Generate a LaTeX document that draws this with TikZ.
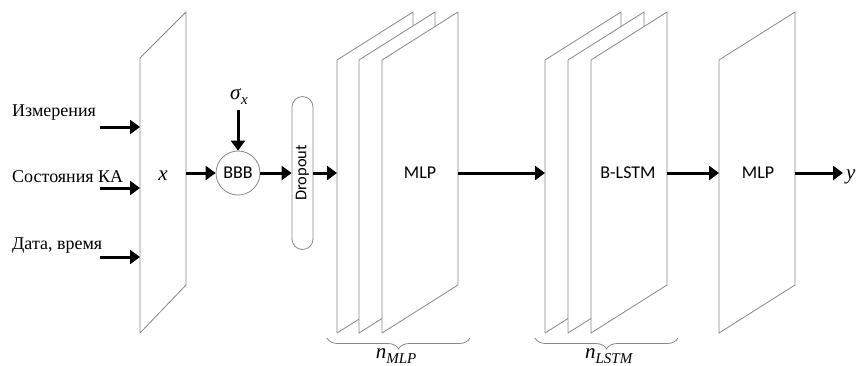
\documentclass[tikz,border=0pt]{standalone}
\usepackage{fontspec}
\setmainfont{Liberation Serif}
\newfontfamily\calibfont{Carlito}
\usetikzlibrary{arrows.meta,decorations.pathreplacing}

\definecolor{edgegray}{RGB}{135,135,135}

% one slanted layer plane, left edge at x = #1
\newcommand\drawplane[1]{%
  \draw[plane] (#1,60) -- ++(76,-48) -- ++(0,273) -- ++(-76,48) -- cycle;}
% italic symbol with a lowered italic index
\newcommand\symidx[2]{\textit{#1}\raisebox{-5pt}{\fontsize{15}{17}\selectfont\textit{#2}}}

\begin{document}
\begin{tikzpicture}[x=1pt,y=-1pt,
  plane/.style={draw=edgegray, fill=white, line width=0.8pt, line join=round},
  flow/.style={-{Triangle[length=10pt,width=14pt]}, line width=3pt},
  sanslbl/.style={font=\fontsize{18}{21}\selectfont\calibfont, inner sep=0},
  serlbl/.style={font=\fontsize{18}{21}\selectfont, inner sep=0},
  mathlbl/.style={font=\fontsize{21}{24}\selectfont, inner sep=0},
  groupbrace/.style={draw=edgegray, line width=0.8pt,
    decorate, decoration={brace, mirror, amplitude=11pt}}]
\useasboundingbox (0,0) rectangle (858,365);

% input plane
\draw[plane] (140,58) -- (186,12) -- (186,285) -- (140,333) -- cycle;
\node[mathlbl] (xl) at (163,176) {\textit{x}};

% stacked MLP planes
\drawplane{337}
\drawplane{359}
\drawplane{382}
\node[sanslbl] (mlpa) at (420,173) {MLP};

% stacked B-LSTM planes
\drawplane{545}
\drawplane{568}
\drawplane{591}
\node[sanslbl] (lstm) at (628,173) {B-LSTM};

% output MLP plane
\drawplane{719}
\node[sanslbl] (mlpb) at (758,173) {MLP};

% input labels and arrows
\node[serlbl, anchor=west] (in1) at (12,113) {Измерения};
\node[serlbl, anchor=west] (in2) at (12,177) {Состояния КА};
\node[serlbl, anchor=west] (in3) at (12,246) {Дата, время};
\coordinate (s1) at (100,127); \coordinate (e1) at (140,127);
\coordinate (s2) at (100,188); \coordinate (e2) at (140,188);
\coordinate (s3) at (100,257); \coordinate (e3) at (140,257);
\draw[flow] (s1) -- (e1);
\draw[flow] (s2) -- (e2);
\draw[flow] (s3) -- (e3);

% BBB and dropout
\node[circle, draw=edgegray, line width=0.8pt, minimum size=44pt, sanslbl] (bbb) at (238,173) {BBB};
\node[mathlbl] (sig) at (239,97) {\symidx{σ}{x}};
\coordinate (sigfoot) at (238,110);
\node[draw=edgegray, line width=0.8pt, rounded corners=10.5pt, minimum width=21pt,
      minimum height=153pt, inner sep=0] (drop) at (302.5,173) {};
\node[sanslbl, font=\fontsize{16.5}{19}\selectfont\calibfont, rotate=90] (droptxt) at (302.5,173) {Dropout};

% connectors along the main path
\coordinate (xout) at (186,173);
\coordinate (mlpin) at (337,173);
\coordinate (mlpout) at (458,173);
\coordinate (lstmin) at (545,173);
\coordinate (lstmout) at (667,173);
\coordinate (finin) at (719,173);
\coordinate (finout) at (795,173);
\coordinate (yend) at (843,173);
\draw[flow] (xout) -- (bbb.west);
\draw[flow] (sigfoot) -- (bbb.north);
\draw[flow] (bbb.east) -- (drop.west);
\draw[flow] (drop.east) -- (mlpin);
\draw[flow] (mlpout) -- (lstmin);
\draw[flow] (lstmout) -- (finin);
\draw[flow] (finout) -- (yend);
\node[mathlbl, anchor=west] (yl) at (846,177) {\textit{y}};

% layer-count braces
\coordinate (b1a) at (327,338); \coordinate (b1b) at (470,338);
\coordinate (b2a) at (535,338); \coordinate (b2b) at (678,338);
\draw[groupbrace] (b1a) -- (b1b);
\draw[groupbrace] (b2a) -- (b2b);
\node[mathlbl] (nmlp) at (396,356) {\symidx{n}{MLP}};
\node[mathlbl] (nlstm) at (609,356) {\symidx{n}{LSTM}};
\end{tikzpicture}
\end{document}
